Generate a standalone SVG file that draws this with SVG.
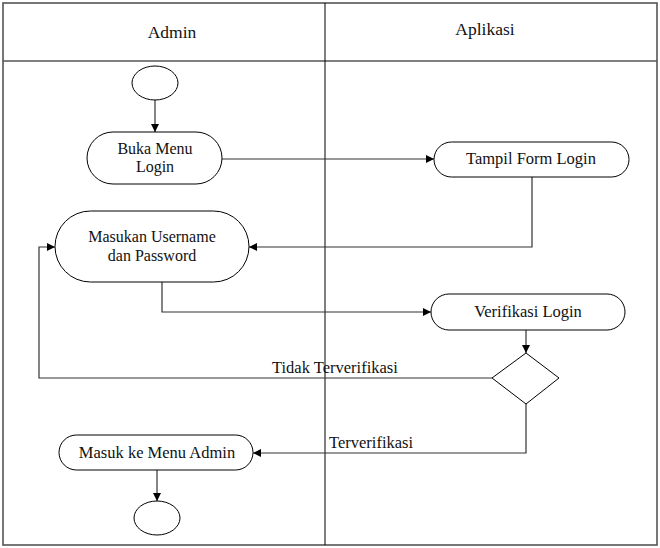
<svg xmlns="http://www.w3.org/2000/svg" width="660" height="548" viewBox="0 0 660 548">
<style>
.frame{fill:none;stroke:#555;stroke-width:1.6}
.div{stroke:#000;stroke-width:1}
.node{fill:#fff;stroke:#000;stroke-width:1}
text{font-family:'Liberation Serif','DejaVu Serif',serif;font-size:16.5px;fill:#111}
.t{text-anchor:middle}
.m{font-size:16px}
.h{font-size:17.5px}
.c{fill:none;stroke:#333;stroke-width:1.2}
</style>
<defs>
<marker id="ah" viewBox="0 0 10 10" refX="10" refY="5" markerWidth="8" markerHeight="8" markerUnits="userSpaceOnUse" orient="auto">
<path d="M0,0 L10,5 L0,10 Z" fill="#000"/>
</marker>
</defs>
<g id="lanes">
<rect class="frame" x="3" y="3" width="654" height="542"/>
<line class="frame" x1="3" y1="61" x2="657" y2="61"/>
<line class="div" x1="325" y1="3" x2="325" y2="545"/>
<text class="t h" x="172" y="38">Admin</text>
<text class="t h" x="485" y="35">Aplikasi</text>
</g>
<g id="connectors">
<path class="c" d="M155,100 L155,132" marker-end="url(#ah)"/>
<path class="c" d="M222,159 L434,159" marker-end="url(#ah)"/>
<path class="c" d="M532,177 L532,247 L249,247" marker-end="url(#ah)"/>
<path class="c" d="M162,282 L162,312 L431,312" marker-end="url(#ah)"/>
<path class="c" d="M526,330 L526,353" marker-end="url(#ah)"/>
<path class="c" d="M492,378 L39,378 L39,247 L55,247" marker-end="url(#ah)"/>
<text x="272" y="373">Tidak Terverifikasi</text>
<path class="c" d="M526,404 L526,453 L253,453" marker-end="url(#ah)"/>
<text x="329" y="448">Terverifikasi</text>
<path class="c" d="M157,470 L157,501" marker-end="url(#ah)"/>
</g>
<g id="start">
<ellipse class="node" cx="155" cy="83" rx="23" ry="17"/>
</g>
<g id="buka-menu-login">
<rect class="node" x="87" y="132" width="135" height="52" rx="26" ry="26"/>
<text class="t m" x="155" y="153.5">Buka Menu</text>
<text class="t m" x="155" y="172">Login</text>
</g>
<g id="tampil-form-login">
<rect class="node" x="434" y="142" width="195" height="35" rx="17.5" ry="17.5"/>
<text class="t" x="531" y="164">Tampil Form Login</text>
</g>
<g id="masukan-username">
<rect class="node" x="55" y="211" width="194" height="71" rx="35.5" ry="35.5"/>
<text class="t m" x="152" y="242">Masukan Username</text>
<text class="t m" x="152" y="260.5">dan Password</text>
</g>
<g id="verifikasi-login">
<rect class="node" x="431" y="294" width="194" height="36" rx="18" ry="18"/>
<text class="t" x="528" y="317">Verifikasi Login</text>
</g>
<g id="decision">
<polygon class="node" points="526,353 559,378 526,404 492,378"/>
</g>
<g id="masuk-menu-admin">
<rect class="node" x="59" y="435" width="194" height="35" rx="17.5" ry="17.5"/>
<text class="t" x="157" y="458">Masuk ke Menu Admin</text>
</g>
<g id="end">
<ellipse class="node" cx="157" cy="518" rx="23" ry="17"/>
</g>
</svg>
